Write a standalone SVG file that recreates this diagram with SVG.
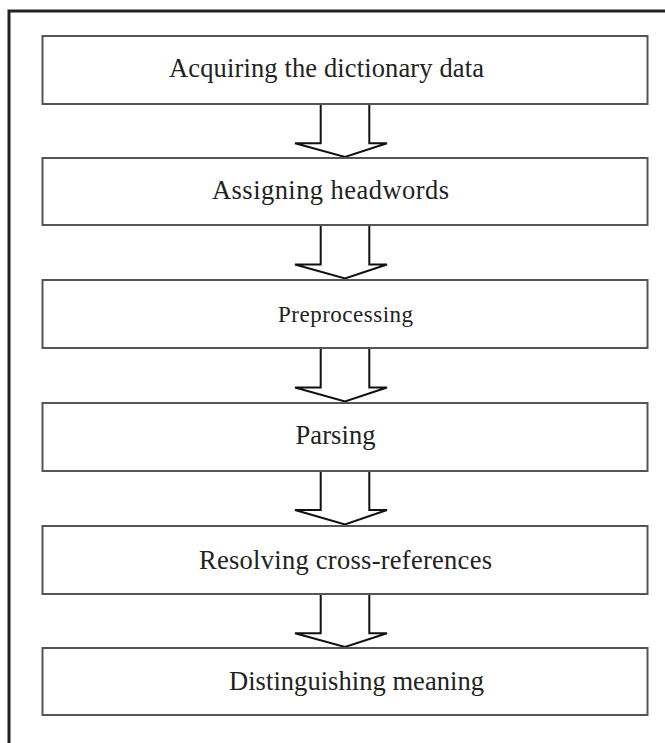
<svg xmlns="http://www.w3.org/2000/svg" width="665" height="743" viewBox="0 0 665 743">
<style>
.box{fill:#fff;stroke:#555;stroke-width:2}
.lbl{font-family:"Liberation Serif","Times New Roman",serif;font-size:26.5px;fill:#222}
.sm{font-size:23px}
.arr{fill:#fff;stroke:#111;stroke-width:2;stroke-linejoin:miter}
</style>
<rect x="0" y="0" width="665" height="743" fill="#fff"/>
<path d="M9,743 V11 H665" fill="none" stroke="#222" stroke-width="3"/>
<g id="connectors">
<path class="arr" d="M320.7,104 V143.3 H295 L345,157 L387,143.3 H369.3 V104"/>
<path class="arr" d="M320.7,225 V264.5 H295 L345,278.5 L387,264.5 H369.3 V225"/>
<path class="arr" d="M320.7,348 V387.5 H295 L345,401.5 L387,387.5 H369.3 V348"/>
<path class="arr" d="M320.7,471 V510 H295 L345,524.5 L387,510 H369.3 V471"/>
<path class="arr" d="M320.7,594 V633.3 H295 L345,647 L387,633.3 H369.3 V594"/>
</g>
<g id="n1"><rect class="box" x="42.5" y="36" width="605" height="68"/><text class="lbl" x="169" y="76.5" textLength="315">Acquiring the dictionary data</text></g>
<g id="n2"><rect class="box" x="42.5" y="158" width="605" height="67"/><text class="lbl" x="212" y="198.5" textLength="237">Assigning headwords</text></g>
<g id="n3"><rect class="box" x="42.5" y="280" width="605" height="68"/><text class="lbl sm" x="278" y="322" textLength="135">Preprocessing</text></g>
<g id="n4"><rect class="box" x="42.5" y="403" width="605" height="68"/><text class="lbl" x="295.5" y="443.5" textLength="80">Parsing</text></g>
<g id="n5"><rect class="box" x="42.5" y="526" width="605" height="68"/><text class="lbl" x="199" y="569" textLength="293">Resolving cross-references</text></g>
<g id="n6"><rect class="box" x="42.5" y="648" width="605" height="67"/><text class="lbl" x="229" y="690" textLength="255">Distinguishing meaning</text></g>
</svg>
